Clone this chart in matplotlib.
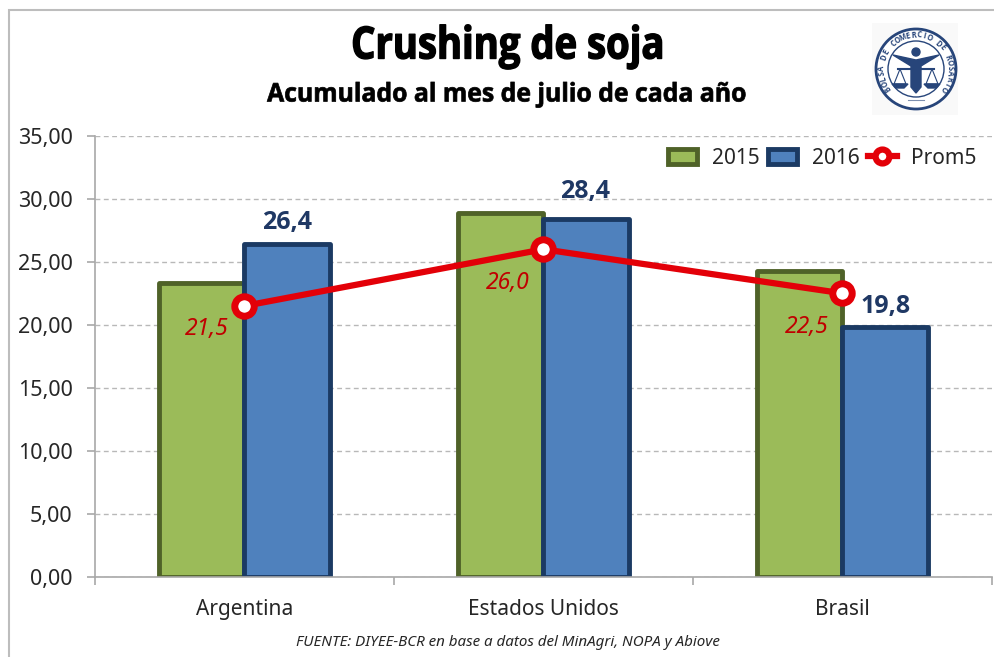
import numpy as np
import matplotlib
matplotlib.use('Agg')
import matplotlib.pyplot as plt
import matplotlib.patheffects as pe
from matplotlib.patches import Circle, Rectangle, Polygon, Patch
from matplotlib.lines import Line2D
from matplotlib.transforms import Affine2D

categories = ['Argentina', 'Estados Unidos', 'Brasil']
vals_2015 = [23.3, 28.9, 24.3]
vals_2016 = [26.4, 28.4, 19.8]
prom5 = [21.5, 26.0, 22.5]
labels_2016 = ['26,4', '28,4', '19,8']
labels_prom = ['21,5', '26,0', '22,5']
yticks = [0, 5, 10, 15, 20, 25, 30, 35]
ytick_labels = ['0,00', '5,00', '10,00', '15,00', '20,00', '25,00', '30,00', '35,00']
logo_text = 'BOLSA DE COMERCIO DE ROSARIO'

GREEN, GREEN_EDGE = '#9BBB59', '#4F6228'
BLUE, BLUE_EDGE = '#4F81BD', '#1B3A63'
RED = '#E30008'


class Squeeze(pe.AbstractPathEffect):
    # narrows a heavy text around a pixel column, there is no condensed font here
    def __init__(self, cx, sx, stroke):
        super().__init__()
        self.cx, self.sx, self.stroke = cx, sx, stroke

    def draw_path(self, renderer, gc, tpath, affine, rgbFace=None):
        aff = affine + Affine2D().translate(-self.cx, 0).scale(self.sx, 1).translate(self.cx, 0)
        gc0 = renderer.new_gc()
        gc0.copy_properties(gc)
        gc0.set_foreground('black')
        gc0.set_linewidth(self.stroke)
        renderer.draw_path(gc0, tpath, aff, rgbFace)
        gc0.restore()


plt.rcParams['font.family'] = ['Noto Sans', 'DejaVu Sans']

fig = plt.figure(figsize=(9.95, 6.57), dpi=100)
W, H = 995, 657
# outer frame of the picture, cut by the right and bottom edges
fig.add_artist(Rectangle((9 / W, -0.02), 1.1, 1 - 10 / H + 0.02, transform=fig.transFigure,
                         fill=False, ec='#bdbdbd', lw=1.5))

ax = fig.add_axes([95 / W, 1 - 576.5 / H, (992 - 95) / W, (576.5 - 136) / H])
ax.patch.set_alpha(0)

x = np.arange(3)
w = 0.285
ax.bar(x - w / 2, vals_2015, w, color=GREEN, edgecolor=GREEN_EDGE, linewidth=3.5, joinstyle='round')
ax.bar(x + w / 2, vals_2016, w, color=BLUE, edgecolor=BLUE_EDGE, linewidth=3.5, joinstyle='round')
ax.plot(x, prom5, color=RED, lw=4.5, marker='o', ms=14, mfc='white', mec=RED, mew=5)

# label offsets, in points from the mark
top_dx = [0, -1, 0]
top_dy = [16, 19.5, 15]
prom_dx = [-27, -26, -26]
prom_dy = [-16.5, -24.5, -24]
for i in range(3):
    ax.annotate(labels_2016[i], (x[i] + w / 2, vals_2016[i]), xytext=(top_dx[i], top_dy[i]),
                textcoords='offset points', ha='center', va='center', fontsize=18, fontweight='bold',
                family='Open Sans', color='#1F3864')
    ax.annotate(labels_prom[i], (x[i], prom5[i]), xytext=(prom_dx[i], prom_dy[i]), textcoords='offset points',
                ha='center', va='center', fontsize=16.5, style='italic', color='#C00000')

ax.set_xlim(-0.5, 2.5)
ax.set_ylim(0, 35)
ax.set_yticks(yticks)
ax.set_yticklabels(ytick_labels)
ax.set_xticks(x)
ax.set_xticklabels(categories)
ax.set_xticks([-0.5, 0.5, 1.5, 2.5], minor=True)
ax.tick_params(axis='y', labelsize=15.5, length=6, width=1.2, color='#a8a8a8', pad=10, labelcolor='#262626')
ax.tick_params(axis='x', which='major', length=0, labelsize=15, pad=16, labelcolor='#262626')
ax.tick_params(axis='x', which='minor', length=6, width=1.2, color='#a8a8a8')
ax.grid(axis='y', linestyle=(0, (3.5, 2.5)), color='#b8b8b8', lw=1)
ax.set_axisbelow(True)
for s in ['top', 'right']:
    ax.spines[s].set_visible(False)
for s in ['left', 'bottom']:
    ax.spines[s].set_color('#a8a8a8')
    ax.spines[s].set_linewidth(1.2)

fig.text(508 / W, 1 - 47 / H, 'Crushing de soja', ha='center', va='center', fontsize=32, fontweight='bold',
         family='Open Sans', color='black', path_effects=[Squeeze(508, 0.86, 1.0)])
fig.text(507 / W, 1 - 94 / H, 'Acumulado al mes de julio de cada año', ha='center', va='center', fontsize=18.5,
         fontweight='bold', family='Open Sans', color='black', path_effects=[Squeeze(507, 0.965, 0.5)])
fig.text(508 / W, 1 - 642 / H, 'FUENTE: DIYEE-BCR en base a datos del MinAgri, NOPA y Abiove',
         ha='center', va='center', fontsize=10.9, style='italic', color='#262626')

handles = [Patch(fc=GREEN, ec=GREEN_EDGE, lw=3.5), Patch(fc=BLUE, ec=BLUE_EDGE, lw=3.5),
           Line2D([], [], color=RED, lw=4.5, marker='o', ms=10, mfc='white', mec=RED, mew=4.5)]
ax.legend(handles, ['2015', '2016', 'Prom5'], loc='center right', bbox_to_anchor=(977 / W, 1 - 158 / H),
          bbox_transform=fig.transFigure, ncol=3, frameon=False, fontsize=15, borderpad=0, borderaxespad=0,
          columnspacing=0.4, handletextpad=0.7, handlelength=1.4, labelcolor='#262626')

# logo: seal of the exchange, drawn in pixels around its centre
logo_ax = fig.add_axes([872 / W, 1 - 115 / H, 86 / W, 92 / H])
logo_ax.set_xlim(-44, 42)
logo_ax.set_ylim(-46, 46)
logo_ax.axis('off')
navy = '#27457A'
logo_ax.add_patch(Rectangle((-44, -46), 86, 92, color='#f9f9f9'))
logo_ax.add_patch(Circle((0, 0), 40, fc='white', ec=navy, lw=2))
logo_ax.add_patch(Circle((0, 0), 28, fc='white', ec=navy, lw=1))
n = len(logo_text)
for i, ch in enumerate(logo_text):
    ang = np.deg2rad(215 - i * 250 / (n - 1))
    logo_ax.text(34 * np.cos(ang), 34 * np.sin(ang), ch, fontsize=5.5, fontweight='bold', color=navy,
                 family='Open Sans', ha='center', va='center', rotation=np.rad2deg(ang) - 90)
logo_ax.add_patch(Polygon([[-23, 14], [0, 9], [23, 14], [5, 3], [5, -18], [0, -24], [-5, -18], [-5, 3]],
                          fc=navy, ec=navy))
logo_ax.add_patch(Circle((0, 17), 4, fc=navy, ec=navy))
logo_ax.add_line(Line2D([-18, 18], [0, 0], color=navy, lw=1.5))
for sx in (-16, 16):
    logo_ax.add_patch(Polygon([[sx, 0], [sx - 6, -15], [sx + 6, -15]], fc='none', ec=navy, lw=0.8))
    logo_ax.add_patch(Polygon([[sx - 8, -15], [sx + 8, -15], [sx + 4, -19], [sx - 4, -19]], fc=navy, ec=navy))
logo_ax.add_line(Line2D([-8, 8], [-31, -31], color=navy, lw=0.8, alpha=0.6))

fig.savefig('out.png', dpi=100)
